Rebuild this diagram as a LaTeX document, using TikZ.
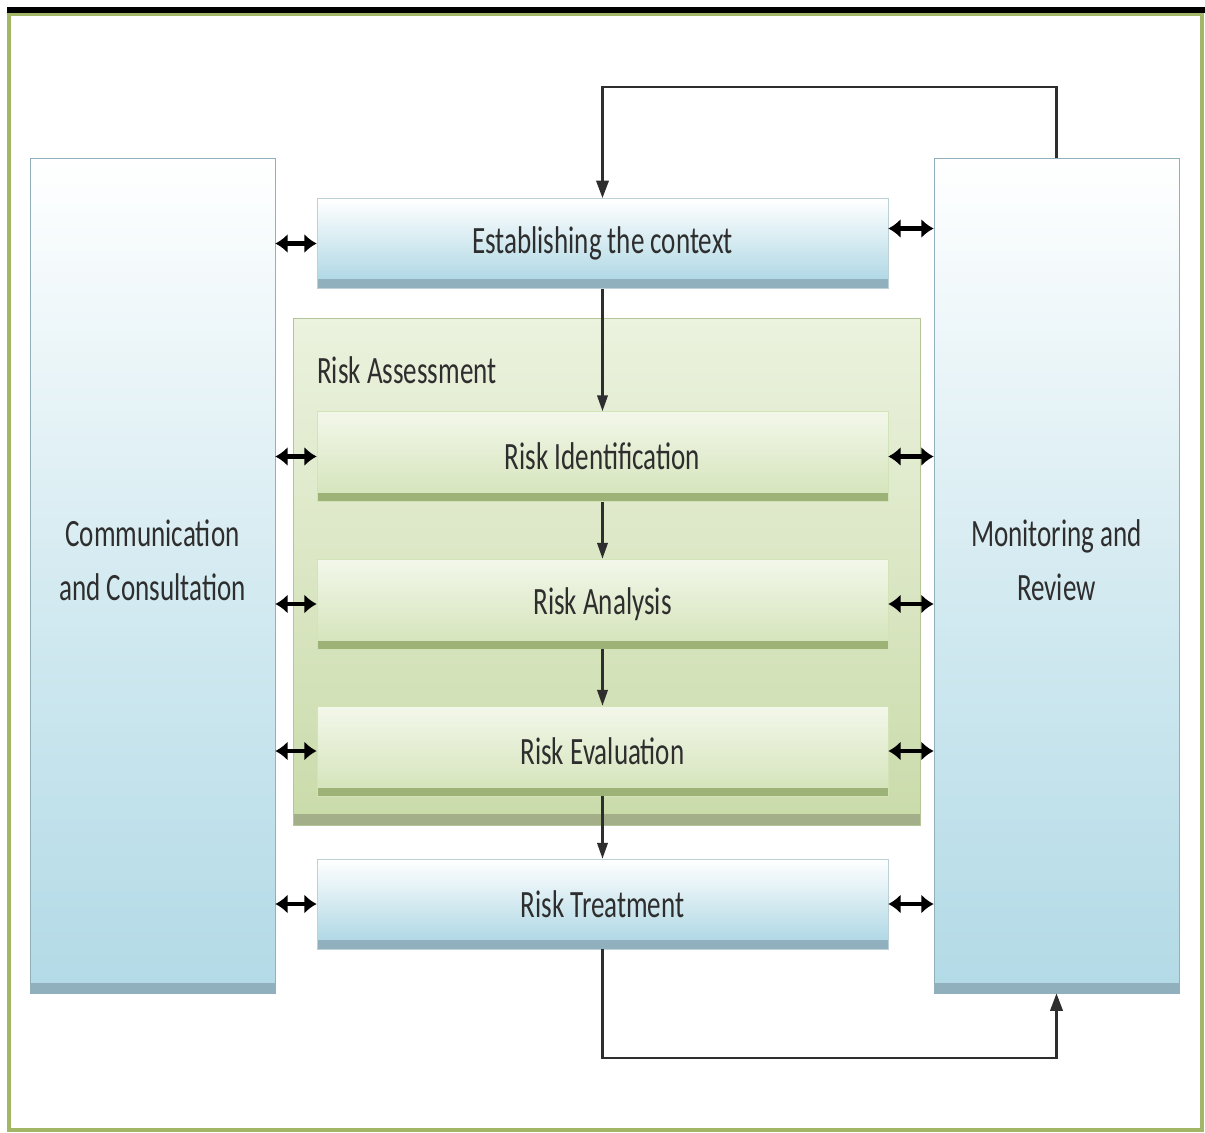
\documentclass[tikz,border=0pt]{standalone}
\usepackage{fontspec}
\newfontfamily\boxfont[FakeStretch=0.7]{Carlito}
\usetikzlibrary{arrows.meta}

\definecolor{sideblue}{HTML}{B2DAE6}
\definecolor{blueedge}{HTML}{8FB0BC}
\definecolor{ctxblue}{HTML}{A8D4E2}
\definecolor{palegreen}{HTML}{F3F7EA}
\definecolor{midgreen}{HTML}{D3E3B8}
\definecolor{bandgreen}{HTML}{9DB276}
\definecolor{assesstop}{HTML}{EBF2DE}
\definecolor{assessbot}{HTML}{CADBAA}
\definecolor{olive}{HTML}{A3B566}
\definecolor{inkgray}{HTML}{2E2E2E}

\tikzset{
  boxtext/.style={text=inkgray, font=\boxfont\fontsize{22}{31}\selectfont},
  sidebox/.style={rectangle, boxtext, align=center, draw=blueedge, thin,
    top color=white, bottom color=sideblue, middle color=sideblue!55,
    minimum width=4.9cm, minimum height=16.7cm, text depth=0.62cm,
    path picture={\fill[blueedge] ([yshift=0.2cm]path picture bounding box.south west) rectangle (path picture bounding box.south east);}},
  stepbox/.style={rectangle, boxtext, minimum width=11.42cm, minimum height=1.8cm},
  bluestep/.style={stepbox, draw=blueedge!60, top color=white, bottom color=ctxblue,
    path picture={\fill[blueedge] ([yshift=0.18cm]path picture bounding box.south west) rectangle (path picture bounding box.south east);}},
  greenstep/.style={stepbox, draw=midgreen, top color=palegreen, bottom color=midgreen,
    path picture={\fill[bandgreen] ([yshift=0.16cm]path picture bounding box.south west) rectangle (path picture bounding box.south east);}},
  assessbox/.style={rectangle, draw=assessbot!90!black, top color=assesstop, bottom color=assessbot,
    minimum width=12.54cm, minimum height=10.14cm,
    path picture={\fill[assessbot!80!black] ([yshift=0.22cm]path picture bounding box.south west) rectangle (path picture bounding box.south east);}},
  flow/.style={draw=inkgray, line width=1.2pt, -{Triangle[length=9pt,width=6pt]}},
  loopline/.style={draw=inkgray, line width=1.6pt},
  twoway/.style={black, line width=2.3pt, {Latex[length=7pt,width=11pt]}-{Latex[length=7pt,width=11pt]}}
}

\begin{document}
\begin{tikzpicture}[x=0.02cm, y=-0.02cm]
    \useasboundingbox (0,0) rectangle (1205,1133);
    \fill[white] (0,0) rectangle (1205,1133);
    \draw[olive, line width=0.09cm] (9,14) rectangle (1202,1130);
    \draw[black, line width=0.12cm] (7,9.5) -- (1205,9.5);

    \node[sidebox] (comm) at (152.5,575.5) {Communication\\and Consultation};
    \node[sidebox] (monitor) at (1056.5,575.5) {Monitoring and\\Review};

    \node[assessbox] (assess) at (606.5,571.5) {};
    \node[boxtext, anchor=west] (assesstitle) at (311,370) {Risk Assessment};

    \node[bluestep] (context) at (602.5,243.5) {Establishing the context};
    \node[greenstep] (ident) at (602.5,456.5) {Risk Identification};
    \node[greenstep] (analysis) at (602.5,604) {Risk Analysis};
    \node[greenstep] (evaluation) at (602.5,751) {Risk Evaluation};
    \node[bluestep] (treatment) at (602.5,904) {Risk Treatment};

    \coordinate (topline) at (0,87);
    \coordinate (botline) at (0,1058);
    \coordinate (ctxright) at ([yshift=0.3cm]context.east);

    \draw[flow] (context.south) -- (ident.north);
    \draw[flow] (ident.south) -- (analysis.north);
    \draw[flow] (analysis.south) -- (evaluation.north);
    \draw[flow] (evaluation.south) -- (treatment.north);

    \draw[loopline, -{Triangle[length=10pt,width=7pt]}] (monitor.north) -- (monitor.north |- topline) -| (context.north);
    \draw[loopline, -{Triangle[length=10pt,width=7pt]}] (treatment.south) -- (treatment.south |- botline) -| (monitor.south);

    \draw[twoway] (comm.east |- context.west) -- (context.west);
    \draw[twoway] (comm.east |- ident.west) -- (ident.west);
    \draw[twoway] (comm.east |- analysis.west) -- (analysis.west);
    \draw[twoway] (comm.east |- evaluation.west) -- (evaluation.west);
    \draw[twoway] (comm.east |- treatment.west) -- (treatment.west);

    \draw[twoway] (ctxright) -- (monitor.west |- ctxright);
    \draw[twoway] (ident.east) -- (monitor.west |- ident.east);
    \draw[twoway] (analysis.east) -- (monitor.west |- analysis.east);
    \draw[twoway] (evaluation.east) -- (monitor.west |- evaluation.east);
    \draw[twoway] (treatment.east) -- (monitor.west |- treatment.east);
\end{tikzpicture}
\end{document}
